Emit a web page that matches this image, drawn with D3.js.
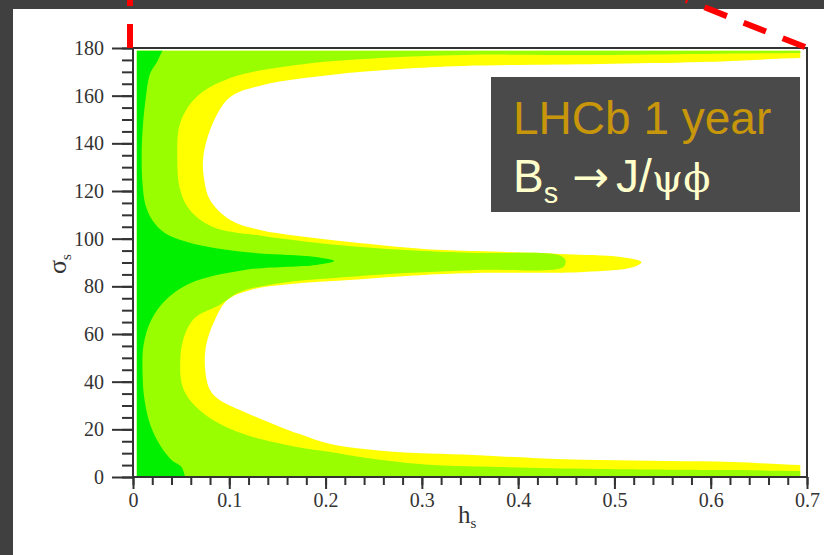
<!DOCTYPE html>
<html>
<head>
<meta charset="utf-8">
<script src="https://cdn.jsdelivr.net/npm/d3@7"></script>
<style>
  body { margin: 0; background: #404040; }
  svg { display: block; }
</style>
</head>
<body>
<svg id="chart" width="824" height="555"></svg>
<script>
// axis ticks
var hTicks = [0, 0.1, 0.2, 0.3, 0.4, 0.5, 0.6, 0.7];
var hTickLabels = ["0", "0.1", "0.2", "0.3", "0.4", "0.5", "0.6", "0.7"];
var sigmaTicks = [0, 20, 40, 60, 80, 100, 120, 140, 160, 180];

// contour outlines, [h_s, sigma_s]
// (outer corners sit past the scan range, the clip trims them)
var contour3 = [ // yellow (outer)
  [-0.03, 185], [0.75, 185], [0.75, 176.0], [0.693, 175.8], [0.589, 174.1], [0.485, 173.3],
  [0.343, 172.5], [0.277, 171.2], [0.205, 168.7], [0.135, 164.5], [0.101, 159.4],
  [0.083, 148.5], [0.073, 134.3], [0.074, 124.6], [0.080, 116.2], [0.101, 107.8],
  [0.132, 103.6], [0.171, 101.1], [0.225, 98.6], [0.302, 95.7], [0.357, 94.8],
  [0.443, 93.6], [0.506, 92.3], [0.528, 90.2], [0.520, 88.1], [0.468, 86.0],
  [0.357, 85.6], [0.302, 84.8], [0.224, 82.7], [0.164, 81.0], [0.122, 78.5],
  [0.098, 74.3], [0.085, 65.9], [0.076, 55.4], [0.075, 44.9], [0.080, 36.5],
  [0.090, 32.3], [0.118, 26.9], [0.153, 21.0], [0.173, 18.0], [0.205, 13.8],
  [0.260, 10.9], [0.354, 9.2], [0.415, 8.0], [0.485, 7.1], [0.555, 6.7],
  [0.623, 6.3], [0.693, 5.0], [0.75, 4.9], [0.75, -5], [-0.03, -5]
];

var contour2 = [ // light green
  [-0.03, 185], [0.75, 185], [0.75, 178.0], [0.693, 177.9], [0.589, 177.5], [0.485, 177.1],
  [0.343, 177.1], [0.257, 175.8], [0.170, 172.9], [0.101, 167.4], [0.066, 159.4],
  [0.049, 148.5], [0.046, 134.3], [0.049, 120.4], [0.059, 112.0], [0.083, 104.9],
  [0.135, 101.1], [0.224, 96.9], [0.302, 94.8], [0.357, 94.0], [0.442, 93.1],
  [0.449, 91.0], [0.447, 88.1], [0.357, 86.9], [0.284, 85.6], [0.209, 83.5],
  [0.154, 81.4], [0.111, 77.6], [0.090, 72.2], [0.064, 66.7], [0.052, 57.5],
  [0.049, 47.0], [0.051, 38.6], [0.059, 32.3], [0.083, 23.9], [0.118, 17.6],
  [0.170, 12.6], [0.205, 10.5], [0.243, 8.0], [0.312, 5.0], [0.381, 4.2],
  [0.485, 3.4], [0.623, 2.9], [0.693, 2.5], [0.75, 2.4], [0.75, -5], [-0.03, -5]
];

var contour1 = [ // green (inner)
  [-0.03, 185], [0.033, 185], [0.026, 175.0], [0.018, 169.5], [0.013, 158.2],
  [0.010, 145.6], [0.009, 134.3], [0.010, 122.5], [0.013, 114.1], [0.020, 107.8],
  [0.033, 102.4], [0.060, 98.2], [0.116, 94.4], [0.190, 92.3], [0.209, 90.6],
  [0.190, 89.0], [0.116, 86.9], [0.060, 81.4], [0.034, 74.3], [0.019, 65.9],
  [0.011, 55.4], [0.010, 42.8], [0.012, 32.3], [0.018, 21.8], [0.028, 13.4],
  [0.040, 7.1], [0.051, 3.8], [0.052, -5], [-0.03, -5]
];

var svg = d3.select("#chart");

var x = d3.scaleLinear().domain([0, 0.7]).range([133, 807]),
    y = d3.scaleLinear().domain([0, 180]).range([477, 48]);

// backdrop: dark slide with white panel
svg.append("rect").attr("width", 824).attr("height", 555).attr("fill", "#404040");
svg.append("rect").attr("x", 13).attr("y", 9).attr("width", 811).attr("height", 546).attr("fill", "#fff");

svg.append("clipPath").attr("id", "plot-clip")
  .append("rect")
    .attr("x", x(0.004)).attr("y", y(178.8))
    .attr("width", x(0.693) - x(0.004)).attr("height", y(0) - y(178.8));

var line = d3.line()
    .x(d => x(d[0]))
    .y(d => y(d[1]))
    .curve(d3.curveCatmullRomClosed.alpha(0.5));

svg.append("g")
    .attr("clip-path", "url(#plot-clip)")
  .selectAll("path")
    .data([[contour3, "#ffff00"], [contour2, "#99ff00"], [contour1, "#00f000"]])
    .enter()
    .append("path")
    .attr("d", d => line(d[0]))
    .attr("fill", d => d[1]);

// axes
var ink = "#333";

var xMinor = svg.append("g")
    .attr("transform", "translate(0,477)")
    .call(d3.axisBottom(x).tickValues(d3.range(0, 0.7001, 0.02)).tickSize(8).tickFormat(""));

var xMajor = svg.append("g")
    .attr("transform", "translate(0,477)")
    .call(d3.axisBottom(x).tickValues(hTicks).tickSize(12).tickPadding(4)
      .tickFormat((d, i) => hTickLabels[i]));

var yMinor = svg.append("g")
    .attr("transform", "translate(133,0)")
    .call(d3.axisLeft(y).tickValues(d3.range(0, 181, 5)).tickSize(11).tickFormat(""));

var yMajor = svg.append("g")
    .attr("transform", "translate(133,0)")
    .call(d3.axisLeft(y).tickValues(sigmaTicks).tickSize(21).tickPadding(8));

[xMinor, xMajor, yMinor, yMajor].forEach(function(g) {
  g.select(".domain").remove();
  g.selectAll(".tick line").attr("stroke", ink).attr("stroke-width", 2);
  g.selectAll(".tick text")
    .attr("fill", ink)
    .style("font-family", "'Liberation Serif', 'Times New Roman', serif")
    .style("font-size", "20px");
});

svg.append("rect")
    .attr("x", x(0)).attr("y", y(180))
    .attr("width", x(0.7) - x(0)).attr("height", y(0) - y(180))
    .attr("fill", "none")
    .attr("stroke", ink)
    .attr("stroke-width", 2);

// axis titles
var xTitle = svg.append("text")
    .attr("x", 458).attr("y", 523)
    .attr("fill", ink)
    .style("font-family", "'Liberation Serif', serif")
    .style("font-size", "25px");
xTitle.append("tspan").text("h");
xTitle.append("tspan").attr("dy", 5).style("font-size", "15px").text("s");

var yTitle = svg.append("text")
    .attr("transform", "translate(66,274) rotate(-90)")
    .attr("fill", ink)
    .style("font-family", "'Liberation Serif', serif")
    .style("font-size", "26px");
yTitle.append("tspan").text("σ");
yTitle.append("tspan").attr("dy", 5).style("font-size", "15px").text("s");

// label box
svg.append("rect")
    .attr("x", 491).attr("y", 77).attr("width", 309).attr("height", 135)
    .attr("fill", "#4a4a4a");

svg.append("text")
    .attr("x", 513).attr("y", 134)
    .attr("fill", "#c8960a")
    .style("font-family", "'Liberation Sans', Arial, sans-serif")
    .style("font-size", "46px")
    .text("LHCb 1 year");

var decay = svg.append("text")
    .attr("x", 513).attr("y", 192)
    .attr("fill", "#ffffcc")
    .style("font-family", "'Liberation Sans', Arial, sans-serif")
    .style("font-size", "46px");
decay.append("tspan").text("B");
decay.append("tspan").attr("dy", 11).style("font-size", "29px").text("s");
decay.append("tspan").attr("x", 572).attr("dy", -11)
    .style("font-family", "'DejaVu Sans', sans-serif").style("font-size", "44px")
    .text("\u2192");
decay.append("tspan").attr("x", 616).text("J/");
decay.append("tspan")
    .style("font-family", "'DejaVu Serif', serif").style("font-size", "40px")
    .text("\u03c8\u03d5");

// red dashed zoom lines from the slide
svg.append("path")
    .attr("d", "M130,48 L130,0")
    .attr("stroke", "#ff0000").attr("stroke-width", 6)
    .attr("stroke-dasharray", "24,18").attr("fill", "none");

svg.append("path")
    .attr("d", "M805,47 L686,0")
    .attr("stroke", "#ff0000").attr("stroke-width", 6)
    .attr("stroke-dasharray", "24,18").attr("fill", "none");
</script>
</body>
</html>
